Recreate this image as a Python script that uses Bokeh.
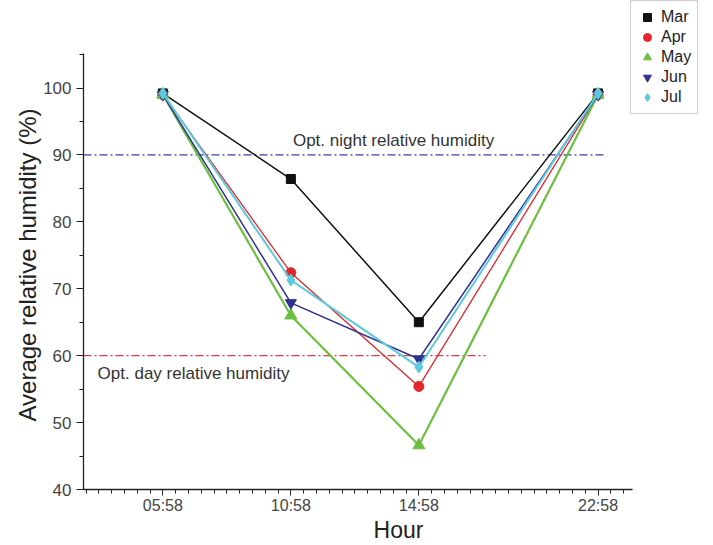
from bokeh.plotting import figure
from bokeh.models import (Range1d, FixedTicker, SingleIntervalTicker, Label, Legend,
                          LegendItem, Title)
from bokeh.embed import file_html
from bokeh.resources import INLINE
import numpy as np

# ---- data ----
hours = ["05:58", "10:58", "14:58", "22:58"]
hour_pos = [1.0, 2.0, 3.0, 4.4]  # axis position of each time label (as spaced in source)
months = ["Mar", "Apr", "May", "Jun", "Jul"]
mar = [99.2, 86.4, 65.0, 99.2]
apr = [99.0, 72.4, 55.4, 99.0]
may = [99.0, 66.0, 46.6, 99.0]
jun = [99.0, 67.9, 59.5, 99.0]
jul = [99.2, 71.3, 58.3, 99.2]
opt_night = 90
opt_day = 60

series = [mar, apr, may, jun, jul]
colors = ["#111111", "#e3262b", "#6cbf3f", "#2e3192", "#5ec8dc"]
markers = ["square", "circle", "triangle", "inverted_triangle", "diamond"]
msizes = [9, 10, 12, 11, 12]
lwidths = [1.5, 1.3, 2.2, 1.5, 2.0]

FONT = "Liberation Sans"

# frame spans to the right/top edges so the legend can sit in the top-right corner;
# axis lines are limited with bounds
p = figure(width=713, height=545, output_backend="svg", toolbar_location=None,
           x_range=Range1d(0.38, 5.302), y_range=Range1d(40, 113.08),
           min_border_left=83, min_border_right=0, min_border_top=0, min_border_bottom=55)
p.outline_line_color = None
p.xgrid.visible = False
p.ygrid.visible = False

# reference lines
p.segment(x0=[0.38], y0=[opt_night], x1=[4.46], y1=[opt_night], line_color="#3b3ba8",
          line_width=1.3, line_dash="8 3 2 3")
p.segment(x0=[0.38], y0=[opt_day], x1=[3.52], y1=[opt_day], line_color="#c9424a",
          line_width=1.3, line_dash="8 3 2 3")

p.add_layout(Label(x=2.016, y=92.1, text="Opt. night relative humidity", text_font=FONT,
                   text_font_size="17px", text_color="#333333", text_baseline="middle"))
p.add_layout(Label(x=0.49, y=57.3, text="Opt. day relative humidity", text_font=FONT,
                   text_font_size="17px", text_color="#333333", text_baseline="middle"))

items = []
for name, ys, c, m, s, lw in zip(months, series, colors, markers, msizes, lwidths):
    p.line(hour_pos, ys, line_color=c, line_width=lw)
    r = p.scatter(hour_pos, ys, marker=m, size=s, fill_color=c, line_color=c)
    items.append(LegendItem(label=name, renderers=[r]))

legend = Legend(items=items, location=(547, 375), label_text_font=FONT,
                label_text_font_size="16px", label_text_color="#222222",
                border_line_color="#999999", border_line_width=1,
                padding=6, spacing=0, margin=0, label_height=20, glyph_height=20,
                glyph_width=20, label_standoff=4, background_fill_alpha=1)
p.add_layout(legend, "center")

# axes
p.xaxis.ticker = FixedTicker(ticks=hour_pos, minor_ticks=list(np.round(np.arange(0.4, 4.67, 0.1), 2)))
p.xaxis.major_label_overrides = {v: h for v, h in zip(hour_pos, hours)}
p.xaxis.bounds = (0.38, 4.67)
p.yaxis.ticker = SingleIntervalTicker(interval=10, num_minor_ticks=2)
p.yaxis.bounds = (40, 105.2)

for ax in (p.xaxis, p.yaxis):
    ax.axis_line_color = "#222222"
    ax.axis_line_width = 1.3
    ax.major_tick_line_color = "#222222"
    ax.minor_tick_line_color = "#222222"
    ax.major_tick_in = 0
    ax.minor_tick_out = 4
    ax.minor_tick_in = 0
    ax.major_label_text_font = FONT
    ax.major_label_text_color = "#444444"
    ax.axis_label_text_font = FONT
    ax.axis_label_text_font_style = "normal"
    ax.axis_label_text_color = "#222222"

p.xaxis.major_tick_out = 6
p.xaxis.major_label_text_font_size = "16px"
p.xaxis.axis_label = "Hour"
p.xaxis.axis_label_text_font_size = "23px"
p.xaxis.axis_label_standoff = 0
p.xaxis.major_label_standoff = 1

p.yaxis.major_tick_out = 7
p.yaxis.major_label_text_font_size = "17px"
p.yaxis.major_label_standoff = 5

# y-axis title, placed to match the plotted 40-105 span (frame extends to the top edge)
p.add_layout(Title(text="Average relative humidity (%)", align="left", offset=68,
                   text_font=FONT, text_font_size="24px", text_font_style="normal",
                   text_color="#222222", standoff=0), "left")

open("out.html", "w").write(file_html(p, INLINE))
